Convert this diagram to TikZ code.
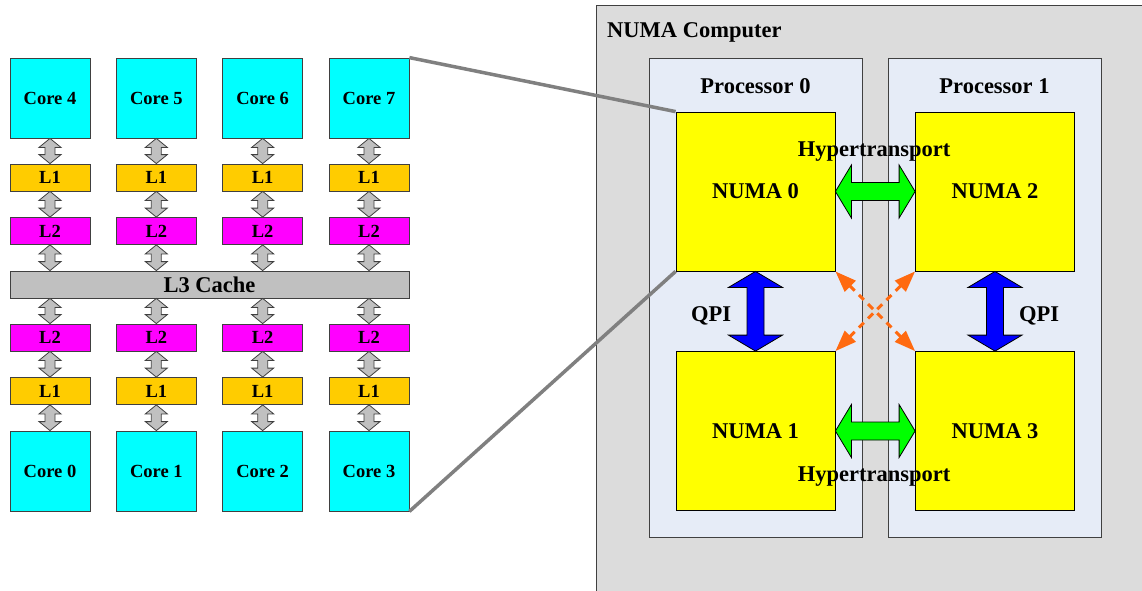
\documentclass[tikz,border=0pt]{standalone}
\usepackage{fontspec}
\setmainfont{Liberation Serif}
\usetikzlibrary{calc,arrows.meta}

\definecolor{corecol}{HTML}{00FFFF}
\definecolor{lonecol}{HTML}{FFCC00}
\definecolor{ltwocol}{HTML}{FF00FF}
\definecolor{lthreecol}{HTML}{C0C0C0}
\definecolor{numacol}{HTML}{FFFF00}
\definecolor{machinecol}{HTML}{DCDCDC}
\definecolor{proccol}{HTML}{E6ECF7}
\definecolor{edgecol}{HTML}{404040}
\definecolor{linkcol}{HTML}{808080}
\definecolor{htcol}{HTML}{00FF00}
\definecolor{qpicol}{HTML}{0000FF}
\definecolor{crosscol}{HTML}{FF6A10}

\newcommand\smallbold{\bfseries\fontsize{18.5}{20}\selectfont}
\newcommand\largebold{\bfseries\fontsize{22.5}{24}\selectfont}

% vertical two-headed block arrow from point #2 (top) to #3 (bottom)
% #4 half head width, #5 half shaft width, #6 head length
\newcommand\vblock[6]{%
  \draw[#1] (#2) -- ($(#2)+(#4,#6)$) -- ($(#2)+(#5,#6)$) -- ($(#3)+(#5,-#6)$)
    -- ($(#3)+(#4,-#6)$) -- (#3) -- ($(#3)+(-#4,-#6)$) -- ($(#3)+(-#5,-#6)$)
    -- ($(#2)+(-#5,#6)$) -- ($(#2)+(-#4,#6)$) -- cycle;}
% horizontal two-headed block arrow from point #2 (left) to #3 (right)
\newcommand\hblock[6]{%
  \draw[#1] (#2) -- ($(#2)+(#6,-#4)$) -- ($(#2)+(#6,-#5)$) -- ($(#3)+(-#6,-#5)$)
    -- ($(#3)+(-#6,-#4)$) -- (#3) -- ($(#3)+(-#6,#4)$) -- ($(#3)+(-#6,#5)$)
    -- ($(#2)+(#6,#5)$) -- ($(#2)+(#6,#4)$) -- cycle;}

\tikzset{
  box/.style={draw=edgecol, line width=0.8pt, inner sep=0pt, font=\smallbold},
  corebox/.style={box, fill=corecol, minimum width=80pt, minimum height=80pt},
  lonebox/.style={box, fill=lonecol, minimum width=80pt, minimum height=27pt},
  ltwobox/.style={box, fill=ltwocol, minimum width=80pt, minimum height=27pt},
  lthreebox/.style={box, fill=lthreecol, minimum width=399pt, minimum height=27pt, font=\largebold},
  numabox/.style={box, draw=black, fill=numacol, minimum width=159pt, minimum height=159pt, font=\largebold},
  procbox/.style={draw=edgecol, line width=0.8pt, fill=proccol},
  label/.style={font=\largebold, inner sep=0pt},
  cachearrow/.style={draw=edgecol, line width=0.8pt, fill=lthreecol},
  htarrow/.style={draw=black, line width=0.8pt, fill=htcol},
  qpiarrow/.style={draw=black, line width=0.8pt, fill=qpicol},
  crosslink/.style={crosscol, line width=3pt, dash pattern=on 7pt off 6pt,
    {Triangle[length=21pt,width=15pt]}-{Triangle[length=21pt,width=15pt]}},
  zoomline/.style={linkcol, line width=3.5pt}
}

\begin{document}
\begin{tikzpicture}[x=1pt,y=-1pt]
\clip (0,0) rectangle (1142,590);
\fill[white] (0,0) rectangle (1142,590);

% ---- multicore processor: cores and cache hierarchy ----
\foreach \k/\x in {0/50,1/156.33,2/262.67,3/369}{
  \pgfmathtruncatemacro\t{\k+4}
  \node[corebox] (c\t) at (\x,98) {Core \t};
  \node[lonebox] (ua\k) at (\x,177.5) {L1};
  \node[ltwobox] (ub\k) at (\x,231) {L2};
  \node[ltwobox] (db\k) at (\x,337.5) {L2};
  \node[lonebox] (da\k) at (\x,391) {L1};
  \node[corebox] (c\k) at (\x,471) {Core \k};
}
\node[lthreebox] (l3) at (209.5,284.5) {L3 Cache};

\foreach \k in {0,1,2,3}{
  \pgfmathtruncatemacro\t{\k+4}
  \coordinate (l3u\k) at (ub\k.south |- l3.north);
  \coordinate (l3d\k) at (db\k.north |- l3.south);
  \vblock{cachearrow}{c\t.south}{ua\k.north}{11}{5}{9}
  \vblock{cachearrow}{ua\k.south}{ub\k.north}{11}{5}{9}
  \vblock{cachearrow}{ub\k.south}{l3u\k}{11}{5}{9}
  \vblock{cachearrow}{l3d\k}{db\k.north}{11}{5}{9}
  \vblock{cachearrow}{db\k.south}{da\k.north}{11}{5}{9}
  \vblock{cachearrow}{da\k.south}{c\k.north}{11}{5}{9}
}

% ---- NUMA machine ----
\draw[draw=edgecol, line width=0.8pt, fill=machinecol] (596,5) rectangle (1160,610);
\node[label, anchor=west] (machine) at (607,32.5) {NUMA Computer};

\draw[procbox] (649,58) rectangle (862,537);
\draw[procbox] (888,58) rectangle (1101,537);
\node[label] (p0) at (755.5,86) {Processor 0};
\node[label] (p1) at (994.5,86) {Processor 1};

\node[numabox] (n0) at (755.5,191.5) {NUMA 0};
\node[numabox] (n1) at (755.5,431) {NUMA 1};
\node[numabox] (n2) at (995,191.5) {NUMA 2};
\node[numabox] (n3) at (995,431) {NUMA 3};

% interconnects
\hblock{htarrow}{n0.east}{n2.west}{26.5}{9}{16}
\hblock{htarrow}{n1.east}{n3.west}{26.5}{9}{16}
\vblock{qpiarrow}{n0.south}{n1.north}{27}{8.5}{16}
\vblock{qpiarrow}{n2.south}{n3.north}{27}{8.5}{16}
\draw[crosslink] (n0.south east) -- (n3.north west);
\draw[crosslink] (n1.north east) -- (n2.south west);

\node[label] (ht0) at (874,151.5) {Hypertransport};
\node[label] (ht1) at (874,476.5) {Hypertransport};
\node[label] (q0) at (711,315.5) {QPI};
\node[label] (q1) at (1039,315.5) {QPI};

% the processor on the left is one NUMA node
\draw[zoomline] (c7.north east) -- (n0.north west);
\draw[zoomline] (c3.south east) -- (n0.south west);
\end{tikzpicture}
\end{document}
